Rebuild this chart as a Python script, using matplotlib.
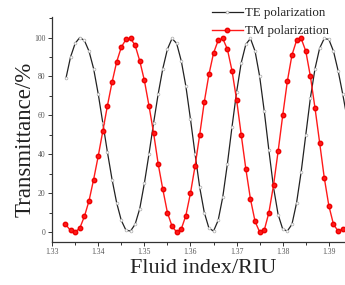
import matplotlib
matplotlib.use('Agg')
import matplotlib.pyplot as plt
from matplotlib.ticker import MultipleLocator, FuncFormatter

# fluid refractive index samples (RIU)
te_index = [1.333, 1.334, 1.335, 1.336, 1.337, 1.338, 1.339, 1.340, 1.341, 1.342,
            1.343, 1.344, 1.345, 1.346, 1.347, 1.348, 1.349, 1.350, 1.351, 1.352,
            1.353, 1.354, 1.355, 1.356, 1.357, 1.358, 1.359, 1.360, 1.361, 1.362,
            1.363, 1.364, 1.365, 1.366, 1.367, 1.368, 1.369, 1.370, 1.371, 1.372,
            1.373, 1.374, 1.375, 1.376, 1.377, 1.378, 1.379, 1.380, 1.381, 1.382,
            1.383, 1.384, 1.385, 1.386, 1.387, 1.388, 1.389, 1.390, 1.391, 1.392,
            1.393, 1.394]
te_trans = [79, 90, 97, 100, 98.5, 93, 84, 71, 56, 41,
            27, 15, 6, 1, 0.5, 4, 12, 25, 40, 56,
            71, 84, 94, 99.5, 97, 88, 75, 58, 40, 23,
            10, 2, 0.5, 6, 18, 35, 54, 72, 87, 96.5,
            99.5, 93, 80, 62, 42, 23, 9, 1.5, 0.5, 4,
            15, 31, 50, 69, 84, 94.5, 99.5, 99, 93, 83,
            71, 58]

tm_index = [1.3329, 1.334, 1.335, 1.336, 1.337, 1.338, 1.339, 1.340, 1.341, 1.342,
            1.343, 1.344, 1.345, 1.346, 1.347, 1.348, 1.349, 1.350, 1.351, 1.352,
            1.353, 1.354, 1.355, 1.356, 1.357, 1.358, 1.359, 1.360, 1.361, 1.362,
            1.363, 1.364, 1.365, 1.366, 1.367, 1.368, 1.369, 1.370, 1.371, 1.372,
            1.373, 1.374, 1.375, 1.376, 1.377, 1.378, 1.379, 1.380, 1.381, 1.382,
            1.383, 1.384, 1.385, 1.386, 1.387, 1.388, 1.389, 1.390, 1.391, 1.392,
            1.393]
tm_trans = [4, 0.8, 0, 2, 8, 16, 27, 39, 52, 65,
            77, 87.5, 95, 99, 99.5, 96, 88, 78, 65, 51,
            35, 22, 10, 3, 0, 1.5, 8.5, 20, 34, 50,
            67, 81, 92, 98.5, 99.5, 94, 83, 68, 50, 32.5,
            17, 5.5, 0, 1, 10, 24, 41.5, 60, 77.5, 91,
            98.5, 99.5, 93, 80, 63.7, 46, 28, 13.5, 4, 0.5,
            1.5]

serif = ['Liberation Serif', 'DejaVu Serif']

fig = plt.figure(figsize=(3.45, 2.85), dpi=100)
ax = fig.add_axes([0.151, 0.151, 0.849, 0.789])

ax.plot(te_index, te_trans, '-', color='#222222', lw=0.9, marker='o', ms=2,
        mfc='white', mec='#aaaaaa', mew=0.5, label='TE polarization')
ax.plot(tm_index, tm_trans, '-', color='#ff1a1a', lw=1.0, marker='o', ms=3.2,
        mfc='#ff1a1a', mec='#ee0000', label='TM polarization')

ax.set_xlim(1.3300, 1.3935)
ax.set_ylim(-5.1, 110.5)
ax.xaxis.set_major_locator(MultipleLocator(0.01))
ax.xaxis.set_minor_locator(MultipleLocator(0.005))
ax.yaxis.set_major_locator(MultipleLocator(20))
ax.yaxis.set_minor_locator(MultipleLocator(10))
ax.xaxis.set_major_formatter(FuncFormatter(lambda v, p: '%.2f' % v))

for s in ['top', 'right']:
    ax.spines[s].set_visible(False)
for s in ['left', 'bottom']:
    ax.spines[s].set_color('#333333')
    ax.spines[s].set_linewidth(0.9)

ax.tick_params(which='both', direction='out', colors='#333333', width=0.7,
               labelsize=5.5, labelcolor='#555555', pad=2)
ax.tick_params(axis='x', pad=1)
ax.tick_params(which='major', length=3)
ax.tick_params(which='minor', length=2)
for lab in ax.get_xticklabels() + ax.get_yticklabels():
    lab.set_family(serif)

ax.set_xlabel('Fluid index/RIU', family=serif, fontsize=16, color='#222222')
ax.set_ylabel('Transmittance/%', family=serif, fontsize=16.5, color='#222222')
ax.xaxis.set_label_coords(0.515, -0.074)
ax.yaxis.set_label_coords(-0.056, 0.455)

leg = ax.legend(loc='upper left', bbox_to_anchor=(0.614, 0.975),
                bbox_transform=fig.transFigure, frameon=False,
                prop={'family': serif, 'size': 9.3}, handlelength=2.4,
                handletextpad=0.2, borderpad=0, borderaxespad=0, labelspacing=0.45)
for t in leg.get_texts():
    t.set_color('#222222')

fig.savefig('out.png', dpi=100)
